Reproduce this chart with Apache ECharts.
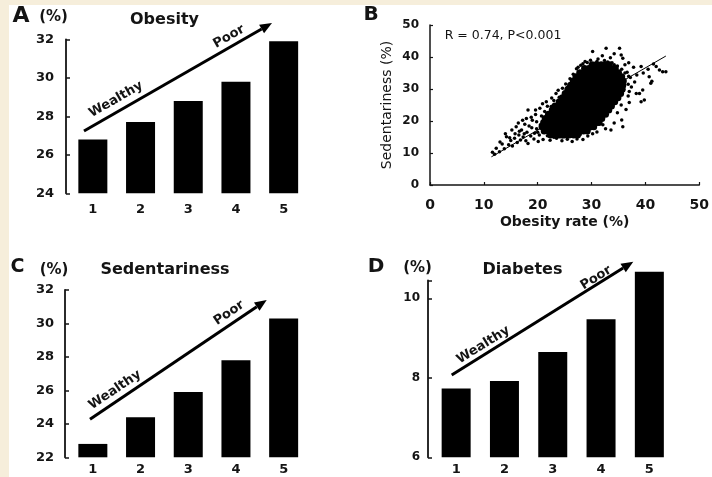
<!DOCTYPE html>
<html><head><meta charset="utf-8">
<script src="https://cdn.jsdelivr.net/npm/echarts@6/dist/echarts.min.js"></script>
<style>
html,body{margin:0;padding:0;background:#f6eedb;}
#paper{position:absolute;left:9px;top:5px;width:703px;height:472px;background:#ffffff;}
#c{position:absolute;left:0;top:0;width:712px;height:477px;}
</style>
</head><body><div id="paper"></div><div id="c"></div>
<script>
// ---------- data ----------
const categories = ['1', '2', '3', '4', '5'];
const obesityValues = [26.8, 27.7, 28.8, 29.8, 31.9];
const sedentaryValues = [22.8, 24.4, 25.9, 27.8, 30.3];
const diabetesValues = [7.73, 7.92, 8.65, 9.47, 10.67];

const obesityAxis = [24, 32, 2];
const sedentaryAxis = [22, 32, 2];
const diabetesAxis = [6, 10.45, 2];
const diabetesBarRange = [6, 10.75];
const scatterAxis = [0, 50, 10];

// dense core of the scatter cloud: [y, [x values]]
const cloudRows = [
  [15.6, [22.4, 23.3, 24.1, 25.0, 25.8, 26.7, 27.4]],
  [16.9, [21.2, 22.0, 22.8, 23.6, 24.4, 25.3, 26.1, 26.9, 27.7, 28.5, 29.2]],
  [18.2, [20.8, 21.6, 22.4, 23.3, 24.1, 24.9, 25.7, 26.6, 27.4, 28.2, 29.0, 29.8, 30.4]],
  [19.5, [21.1, 21.9, 22.8, 23.6, 24.4, 25.2, 26.1, 26.9, 27.7, 28.5, 29.4, 30.2, 31.0, 31.4]],
  [20.8, [21.4, 22.2, 23.0, 23.8, 24.7, 25.5, 26.3, 27.1, 28.0, 28.8, 29.6, 30.4, 31.3, 31.9]],
  [22.1, [22.0, 22.8, 23.6, 24.5, 25.3, 26.1, 26.9, 27.8, 28.6, 29.4, 30.2, 31.1, 31.9, 32.6]],
  [23.4, [22.7, 23.5, 24.3, 25.2, 26.0, 26.8, 27.6, 28.5, 29.3, 30.1, 30.9, 31.8, 32.6, 33.2]],
  [24.7, [23.2, 24.0, 24.9, 25.7, 26.5, 27.3, 28.2, 29.0, 29.8, 30.6, 31.5, 32.3, 33.1, 33.7]],
  [26.0, [24.0, 24.8, 25.6, 26.5, 27.3, 28.1, 28.9, 29.8, 30.6, 31.4, 32.2, 33.1, 33.9, 34.3]],
  [27.3, [24.6, 25.4, 26.3, 27.1, 27.9, 28.7, 29.6, 30.4, 31.2, 32.0, 32.9, 33.7, 34.5, 34.9]],
  [28.6, [25.1, 25.9, 26.8, 27.6, 28.4, 29.2, 30.1, 30.9, 31.7, 32.5, 33.4, 34.2, 35.0, 35.4]],
  [29.9, [25.6, 26.4, 27.3, 28.1, 28.9, 29.7, 30.6, 31.4, 32.2, 33.0, 33.9, 34.7, 35.4, 35.7]],
  [31.2, [26.1, 26.9, 27.8, 28.6, 29.4, 30.2, 31.1, 31.9, 32.7, 33.5, 34.4, 35.2, 35.8]],
  [32.5, [26.6, 27.4, 28.3, 29.1, 29.9, 30.7, 31.6, 32.4, 33.2, 34.0, 34.9, 35.6, 35.9]],
  [33.8, [27.1, 27.9, 28.8, 29.6, 30.4, 31.2, 32.1, 32.9, 33.7, 34.5, 35.2, 35.6]],
  [35.1, [27.8, 28.6, 29.4, 30.2, 31.1, 31.9, 32.7, 33.5, 34.3, 35.0]],
  [36.4, [28.7, 29.5, 30.3, 31.2, 32.0, 32.8, 33.6, 34.4]],
  [37.6, [30.1, 30.9, 31.8, 32.6, 33.3]]
];

// scattered individual points around the cloud: [x, y]
const sparsePoints = [
  [11.6,10.2],[12.3,11.5],[12.9,10.4],[13.4,12.8],[13.8,11.3],[14.2,15.1],[14.6,12.6],[15.0,13.9],
  [15.3,12.2],[15.7,14.6],[16.0,18.2],[16.2,13.3],[16.5,15.6],[16.8,14.1],[17.0,17.2],[17.3,15.0],
  [17.6,19.0],[17.8,13.8],[18.0,16.5],[18.2,13.0],[18.4,18.4],[18.7,15.3],[19.0,20.2],[19.3,14.4],
  [19.6,22.0],[19.8,17.6],[20.1,13.6],[20.4,24.0],[20.7,21.6],[21.0,14.2],[21.3,23.0],[21.8,24.6],
  [22.3,14.0],[22.5,24.5],[23.0,26.4],[23.4,28.6],[24.0,27.4],[23.5,14.6],[24.5,13.8],[25.5,14.3],
  [26.4,13.6],[27.3,14.4],[28.4,14.2],[29.3,15.3],[30.2,16.0],[31.0,16.6],[32.1,18.8],[32.6,17.6],
  [33.6,17.2],[34.2,19.4],[35.8,18.2],[35.6,20.3],[34.8,22.6],[35.5,25.0],[36.4,23.6],[37.0,25.8],
  [36.8,27.8],[38.3,28.6],[38.9,28.6],[39.2,26.0],[39.8,26.6],[39.5,29.7],[37.4,30.6],[38.0,32.2],
  [37.2,33.6],[38.4,34.4],[39.6,35.0],[40.7,33.8],[41.0,31.8],[41.2,32.4],[42.6,35.9],[43.8,35.4],
  [43.2,35.4],[42.0,37.0],[40.5,36.2],[41.5,37.8],[39.2,37.0],[37.8,36.8],[36.9,38.2],[36.2,37.6],
  [35.8,39.6],[35.5,40.6],[35.2,42.7],[34.2,41.0],[33.5,39.8],[32.7,42.7],[32.0,40.4],[31.2,39.4],
  [30.2,41.7],[29.8,39.0],[28.8,38.6],[28.0,37.4],[27.2,36.3],[26.6,34.6],[26.0,33.2],[25.2,31.6],
  [24.6,30.2],[23.8,29.6],[22.6,27.2],[21.6,26.0],[20.9,25.4],[19.6,23.4],[18.2,23.4],[18.8,21.2],
  [17.2,20.2],[16.4,19.4],[15.2,17.2],[14.0,16.0],[20.0,16.5],[20.5,18.8],[19.8,19.8],[21.0,19.8],
  [20.3,15.6],[36.8,31.5],[37.0,29.2],[36.6,35.2],[36.9,34.0],[12.0,9.6],[13.0,13.4],[14.8,14.8],
  [16.6,16.8],[17.5,16.0],[18.9,17.9],[19.4,16.2],[15.8,16.0],[17.9,20.8],
  [29.2,38.3],[31.0,38.6],[32.4,38.9],[33.8,38.2],[34.8,37.2],[35.6,36.2],[36.2,35.0],[28.4,37.9],
  [27.5,36.8],[21.8,15.4],[23.0,14.9],[24.6,15.0],[26.2,15.2],[27.9,15.8],[28.8,16.6],[29.8,17.6],
  [30.6,38.0],[33.0,38.4],[34.2,37.6]
];

const fitLine = [[11.4, 8.8], [43.8, 40.3]];
const statText = 'R = 0.74, P<0.001';

// ---------- chart ----------
const cloudPoints = [];
cloudRows.forEach(r => r[1].forEach(x => cloudPoints.push([x, r[0]])));

const FONT = 'DejaVu Sans';
const INK = '#141414';

function catX(grid, margin, hidden) {
  return {
    gridIndex: grid, type: 'category', data: categories, show: !hidden,
    axisLine: {show: false}, axisTick: {show: false},
    axisLabel: {margin: margin, fontFamily: FONT, fontWeight: 'bold', fontSize: 13, color: INK}
  };
}
function valY(grid, ax, offset, margin, fs) {
  return {
    gridIndex: grid, type: 'value', min: ax[0], max: ax[1], interval: ax[2], offset: offset,
    splitLine: {show: false},
    axisLine: {show: true, lineStyle: {color: INK, width: 1.8}},
    axisTick: {show: true, inside: true, length: 4, lineStyle: {color: INK, width: 1.5}},
    axisLabel: {margin: margin, fontFamily: FONT, fontWeight: 'bold', fontSize: fs, color: INK,
      formatter: v => (Math.abs(v / ax[2] - Math.round(v / ax[2])) < 1e-6 ? String(v) : '')}
  };
}

// grid D: 6 -> y 457.3, 10 -> y 298.3 (39.75 px per unit)
const dBottom = 457.3, dPx = 39.75;
const dTopAxis = dBottom - (diabetesAxis[1] - diabetesAxis[0]) * dPx;
const dTopBars = dBottom - (diabetesBarRange[1] - diabetesBarRange[0]) * dPx;

const option = {
  animation: false,
  backgroundColor: 'transparent',
  grid: [
    {left: 69, top: 39.3, width: 238.5, height: 154},
    {left: 430, top: 25, width: 270, height: 160},
    {left: 69, top: 290, width: 238.5, height: 167.3},
    {left: 432, top: dTopAxis, width: 241.5, height: dBottom - dTopAxis},
    {left: 432, top: dTopBars, width: 241.5, height: dBottom - dTopBars}
  ],
  xAxis: [
    catX(0, 10),
    {
      gridIndex: 1, type: 'value', min: scatterAxis[0], max: scatterAxis[1], interval: scatterAxis[2],
      splitLine: {show: false},
      axisLine: {show: true, lineStyle: {color: INK, width: 1.5}},
      axisTick: {show: true, inside: true, length: 3, lineStyle: {color: INK, width: 1.2}},
      axisLabel: {margin: 13, fontFamily: FONT, fontWeight: 'bold', fontSize: 14, color: INK},
      name: 'Obesity rate (%)', nameLocation: 'middle', nameGap: 30,
      nameTextStyle: {fontFamily: FONT, fontWeight: 'bold', fontSize: 14, color: INK}
    },
    catX(2, 6),
    catX(3, 6),
    catX(4, 6, true)
  ],
  yAxis: [
    valY(0, obesityAxis, 3, 12, 13),
    {
      gridIndex: 1, type: 'value', min: scatterAxis[0], max: scatterAxis[1], interval: scatterAxis[2],
      splitLine: {show: false},
      axisLine: {show: true, lineStyle: {color: INK, width: 1.5}},
      axisTick: {show: true, inside: true, length: 3, lineStyle: {color: INK, width: 1.2}},
      axisLabel: {margin: 11, fontFamily: FONT, fontWeight: 'bold', fontSize: 12, color: INK},
      name: 'Sedentariness (%)', nameLocation: 'middle', nameGap: 36,
      nameTextStyle: {fontFamily: FONT, fontWeight: 'normal', fontSize: 14, color: INK}
    },
    valY(2, sedentaryAxis, 4, 11, 13),
    valY(3, diabetesAxis, 4, 8, 12),
    {gridIndex: 4, type: 'value', min: diabetesBarRange[0], max: diabetesBarRange[1], show: false,
     splitLine: {show: false}}
  ],
  series: [
    {type: 'bar', xAxisIndex: 0, yAxisIndex: 0, data: obesityValues, barWidth: 29,
     itemStyle: {color: '#000'}, silent: true},
    {type: 'scatter', xAxisIndex: 1, yAxisIndex: 1, data: sparsePoints, symbolSize: 3.5,
     itemStyle: {color: '#000', opacity: 1}, silent: true},
    {type: 'scatter', xAxisIndex: 1, yAxisIndex: 1, data: cloudPoints, symbolSize: 7,
     itemStyle: {color: '#000', opacity: 1}, silent: true},
    {type: 'line', xAxisIndex: 1, yAxisIndex: 1, data: fitLine, symbol: 'none',
     lineStyle: {color: '#000', width: 1}, silent: true, z: 3},
    {type: 'bar', xAxisIndex: 2, yAxisIndex: 2, data: sedentaryValues, barWidth: 29,
     itemStyle: {color: '#000'}, silent: true},
    {type: 'bar', xAxisIndex: 4, yAxisIndex: 4, data: diabetesValues, barWidth: 29,
     itemStyle: {color: '#000'}, silent: true}
  ]
};

// ---------- annotations ----------
function arrow(x1, y1, x2, y2) {
  const a = Math.atan2(y2 - y1, x2 - x1);
  const L = 12, W = 5;
  const bx = x2 - L * Math.cos(a), by = y2 - L * Math.sin(a);
  const px = -Math.sin(a), py = Math.cos(a);
  return [
    {type: 'line', shape: {x1: x1, y1: y1, x2: bx, y2: by}, style: {stroke: '#000', lineWidth: 3}, silent: true},
    {type: 'polygon', shape: {points: [[x2, y2], [bx + W * px, by + W * py], [bx - W * px, by - W * py]]},
     style: {fill: '#000'}, silent: true}
  ];
}
function label(text, x, y, size, weight, rotDeg) {
  return {
    type: 'text', x: x, y: y, rotation: (rotDeg || 0) * Math.PI / 180, silent: true,
    style: {text: text, fontFamily: FONT, fontSize: size, fontWeight: weight || 'bold', fill: INK,
            align: 'center', verticalAlign: 'middle'}
  };
}
function angle(x1, y1, x2, y2) { return Math.atan2(y1 - y2, x2 - x1) * 180 / Math.PI; }

const arrA = [84, 131, 272, 23];
const arrC = [90, 419.3, 266.7, 300];
const arrD = [451.7, 375, 633.3, 261.7];

option.graphic = [].concat(
  arrow(...arrA), arrow(...arrC), arrow(...arrD),
  [
    label('A', 21, 16, 22),
    label('(%)', 53.5, 17, 15),
    label('Obesity', 164.5, 20, 16),
    label('B', 371, 15, 20),
    label(statText, 503, 36, 12.5, 'normal'),
    label('C', 17.5, 267.5, 19),
    label('(%)', 54, 270, 15),
    label('Sedentariness', 165, 270, 16),
    label('D', 376, 267, 20),
    label('(%)', 417.5, 268.5, 15),
    label('Diabetes', 522.5, 269.5, 16),
    label('Wealthy', 116, 99.5, 13, 'bold', angle(...arrA)),
    label('Poor', 229, 36.7, 13, 'bold', angle(...arrA)),
    label('Wealthy', 115, 390, 13, 'bold', angle(...arrC)),
    label('Poor', 229, 313, 13, 'bold', angle(...arrC)),
    label('Wealthy', 483.3, 345, 13, 'bold', angle(...arrD)),
    label('Poor', 596, 278, 13, 'bold', angle(...arrD))
  ]
);

const chart = echarts.init(document.getElementById('c'), null, {renderer: 'canvas'});
chart.setOption(option);
</script>
</body></html>
